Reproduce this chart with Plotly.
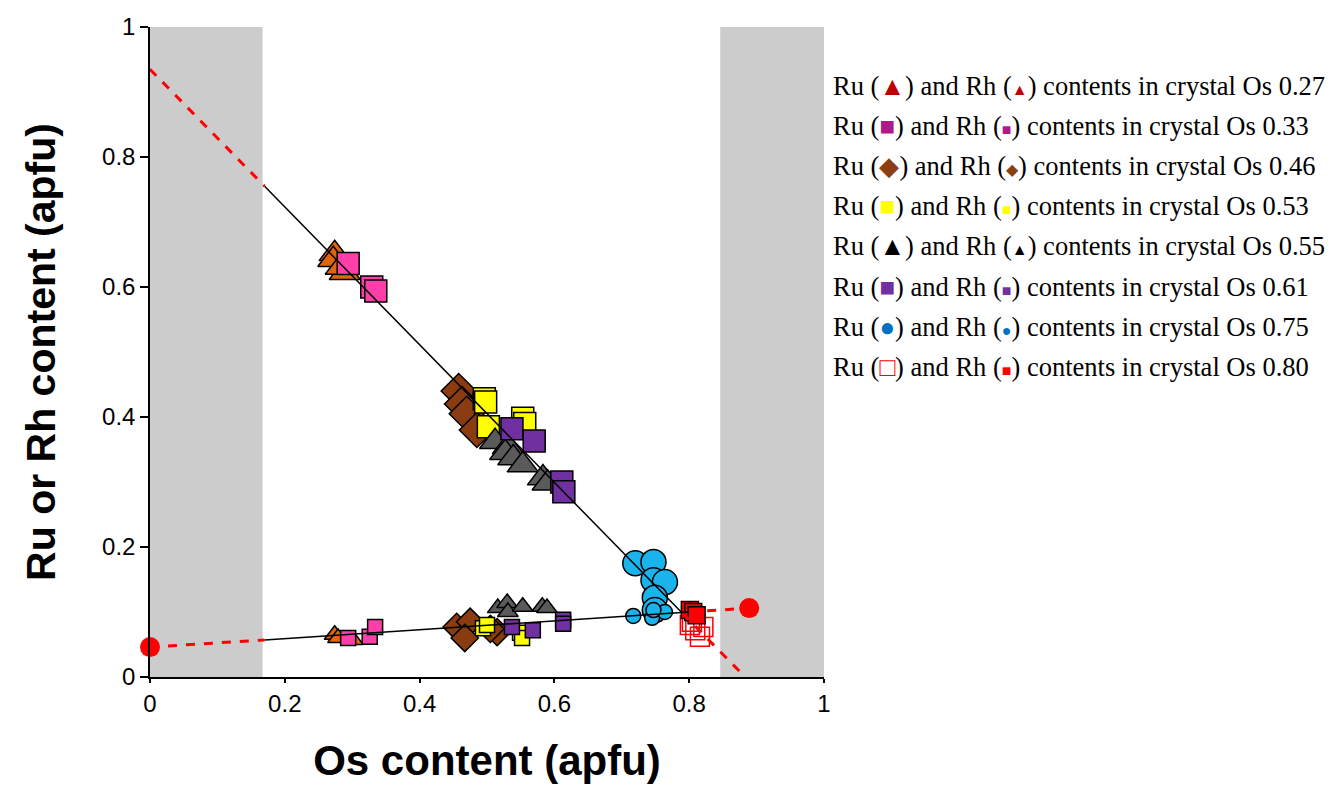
import plotly.graph_objects as go

# ---------------- data ----------------
crystals = ["0.27", "0.33", "0.46", "0.53", "0.55", "0.61", "0.75", "0.80"]

ru_027_x = [0.274, 0.272, 0.289, 0.283]
ru_027_y = [0.651, 0.642, 0.622, 0.630]
rh_027_x = [0.274, 0.279, 0.301]
rh_027_y = [0.065, 0.060, 0.057]

ru_033_x = [0.294, 0.329, 0.335]
ru_033_y = [0.636, 0.600, 0.594]
rh_033_x = [0.294, 0.326, 0.334]
rh_033_y = [0.060, 0.062, 0.077]

ru_046_x = [0.458, 0.463, 0.470, 0.485]
ru_046_y = [0.440, 0.420, 0.405, 0.380]
rh_046_x = [0.455, 0.475, 0.467, 0.515, 0.505]
rh_046_y = [0.077, 0.085, 0.060, 0.069, 0.074]

ru_053_x = [0.496, 0.498, 0.502, 0.553, 0.556]
ru_053_y = [0.428, 0.423, 0.385, 0.398, 0.390]
rh_053_x = [0.494, 0.500, 0.549, 0.552]
rh_053_y = [0.075, 0.080, 0.068, 0.060]

ru_055_x = [0.512, 0.531, 0.527, 0.539, 0.553, 0.583, 0.590]
ru_055_y = [0.362, 0.354, 0.345, 0.337, 0.326, 0.306, 0.298]
rh_055_x = [0.516, 0.530, 0.531, 0.553, 0.582, 0.589]
rh_055_y = [0.106, 0.114, 0.100, 0.108, 0.108, 0.106]

ru_061_x = [0.537, 0.570, 0.611, 0.614]
ru_061_y = [0.382, 0.363, 0.300, 0.285]
rh_061_x = [0.537, 0.568, 0.613, 0.613]
rh_061_y = [0.077, 0.072, 0.088, 0.082]

ru_075_x = [0.720, 0.747, 0.747, 0.764, 0.749, 0.749]
ru_075_y = [0.175, 0.177, 0.149, 0.146, 0.122, 0.103]
rh_075_x = [0.717, 0.745, 0.764, 0.747]
rh_075_y = [0.094, 0.091, 0.100, 0.103]

ru_080_x = [0.801, 0.809, 0.816, 0.804, 0.821]
ru_080_y = [0.080, 0.072, 0.062, 0.085, 0.077]
rh_080_x = [0.801, 0.806, 0.811]
rh_080_y = [0.103, 0.100, 0.095]

# fitted trend lines (extrapolated ends dashed)
ru_fit_x = [0.0, 0.17, 0.79, 0.883]
ru_fit_y = [0.935, 0.755, 0.098, 0.0]
rh_fit_x = [0.0, 0.17, 0.80, 0.889]
rh_fit_y = [0.046, 0.057, 0.100, 0.106]

# excluded composition bands
band_x0 = [0.0, 0.846]
band_x1 = [0.167, 1.0]

x_ticks = [0, 0.2, 0.4, 0.6, 0.8, 1]
x_tick_text = ["0", "0.2", "0.4", "0.6", "0.8", "1"]
y_ticks = [0, 0.2, 0.4, 0.6, 0.8, 1]
y_tick_text = ["0", "0.2", "0.4", "0.6", "0.8", "1"]

# ---------------- styles ----------------
series = [
    (ru_027_x, ru_027_y, rh_027_x, rh_027_y, "triangle-up", "#E0660E", 27, 18),
    (ru_033_x, ru_033_y, rh_033_x, rh_033_y, "square", "#FF3FA9", 22, 15),
    (ru_046_x, ru_046_y, rh_046_x, rh_046_y, "diamond", "#8A3B10", 27, 21),
    (ru_053_x, ru_053_y, rh_053_x, rh_053_y, "square", "#FFFF00", 22, 15),
    (ru_055_x, ru_055_y, rh_055_x, rh_055_y, "triangle-up", "#5A5A5A", 27, 18),
    (ru_061_x, ru_061_y, rh_061_x, rh_061_y, "square", "#7030A0", 22, 15),
    (ru_075_x, ru_075_y, rh_075_x, rh_075_y, "circle", "#1BB3EC", 25, 15),
]

fig = go.Figure()

for x0, x1 in zip(band_x0, band_x1):
    fig.add_shape(type="rect", xref="x", yref="y", x0=x0, x1=x1, y0=0, y1=1,
                  fillcolor="#CCCCCC", line=dict(width=0), layer="below")

for rux, ruy, rhx, rhy, sym, col, big, small in series:
    fig.add_trace(go.Scatter(x=rux, y=ruy, mode="markers",
                             marker=dict(symbol=sym, size=big, color=col,
                                         line=dict(color="black", width=1.5))))
    fig.add_trace(go.Scatter(x=rhx, y=rhy, mode="markers",
                             marker=dict(symbol=sym, size=small, color=col,
                                         line=dict(color="black", width=1.5))))

fig.add_trace(go.Scatter(x=ru_080_x, y=ru_080_y, mode="markers",
                         marker=dict(symbol="square-open", size=19, color="#FF0000",
                                     line=dict(color="#FF0000", width=1.5))))
fig.add_trace(go.Scatter(x=rh_080_x, y=rh_080_y, mode="markers",
                         marker=dict(symbol="square", size=17, color="#FF0000",
                                     line=dict(color="black", width=1.5))))

# trend lines on top of markers
for fx, fy in [(ru_fit_x, ru_fit_y), (rh_fit_x, rh_fit_y)]:
    fig.add_trace(go.Scatter(x=fx[0:2], y=fy[0:2], mode="lines",
                             line=dict(color="#FF0000", width=3, dash="dash")))
    fig.add_trace(go.Scatter(x=fx[1:3], y=fy[1:3], mode="lines",
                             line=dict(color="black", width=1.5)))
    fig.add_trace(go.Scatter(x=fx[2:4], y=fy[2:4], mode="lines",
                             line=dict(color="#FF0000", width=3, dash="dash")))

fig.add_trace(go.Scatter(x=[rh_fit_x[0], rh_fit_x[-1]], y=[rh_fit_y[0], rh_fit_y[-1]],
                         mode="markers", cliponaxis=False,
                         marker=dict(symbol="circle", size=20, color="#FF0000")))

# ---------------- legend (text with coloured glyphs) ----------------
leg_big = [("▲", "#C00000"), ("■", "#B0198C"), ("◆", "#8B3E12"), ("■", "#FFFF00"),
           ("▲", "#000000"), ("■", "#7030A0"), ("●", "#0070C0"), ("□", "#FF0000")]
leg_small = [("▲", "#C00000"), ("■", "#B0198C"), ("◆", "#8B3E12"), ("■", "#FFFF00"),
             ("▲", "#000000"), ("■", "#7030A0"), ("●", "#0070C0"), ("■", "#FF0000")]
leg_y0 = 86
leg_dy = 40.1
for i, c in enumerate(crystals):
    g1, c1 = leg_big[i]
    g2, c2 = leg_small[i]
    txt = ("Ru (<span style='color:%s;font-size:26px'>%s</span>) and Rh "
           "(<span style='color:%s;font-size:16px'>%s</span>) contents in crystal Os %s"
           % (c1, g1, c2, g2, c))
    ypx = leg_y0 + i * leg_dy
    fig.add_annotation(xref="paper", yref="paper", x=(831 - 150) / 674,
                       y=(677 - ypx) / 650, xanchor="left", yanchor="middle",
                       text=txt, showarrow=False,
                       font=dict(family="Liberation Serif", size=26.5, color="black"))

fig.update_layout(
    width=1328, height=791,
    margin=dict(l=150, r=504, t=27, b=114),
    paper_bgcolor="white", plot_bgcolor="white",
    showlegend=False,
    font=dict(family="Liberation Sans", color="black"),
)
fig.update_xaxes(range=[0, 1], tickvals=x_ticks, ticktext=x_tick_text,
                 showgrid=False, zeroline=False, showline=True, linecolor="black",
                 linewidth=1.5, ticks="outside", ticklen=4, tickwidth=1.5, tickcolor="black",
                 tickfont=dict(size=24, family="Liberation Sans"),
                 title=dict(text="<b>Os content (apfu)</b>", standoff=30,
                            font=dict(size=42, family="Liberation Sans")))
fig.update_yaxes(range=[0, 1], tickvals=y_ticks, ticktext=y_tick_text,
                 showgrid=False, zeroline=False, showline=True, linecolor="black",
                 linewidth=1.5, ticks="outside", ticklen=8, tickwidth=1.5, tickcolor="black",
                 tickfont=dict(size=24, family="Liberation Sans"),
                 title=dict(text="<b>Ru or Rh content (apfu)</b>", standoff=34,
                            font=dict(size=41, family="Liberation Sans")))

fig.write_html("out.html")
